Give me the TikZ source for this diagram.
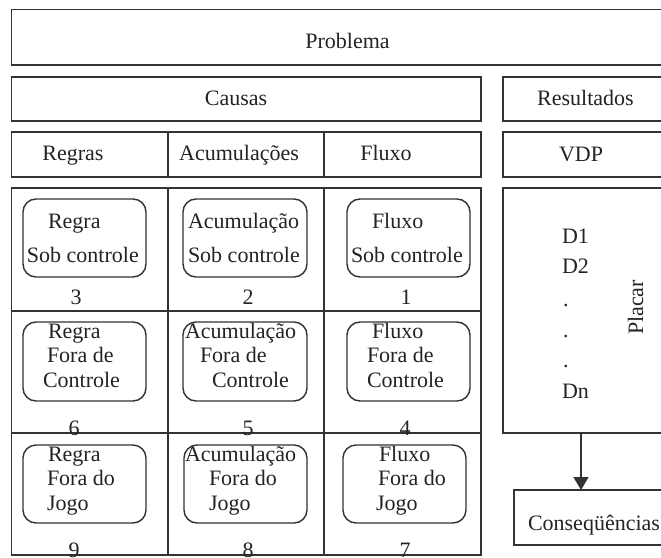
\documentclass[tikz,border=0pt]{standalone}
\usepackage{fontspec}
\setmainfont{Liberation Serif}
\usetikzlibrary{arrows.meta}
\definecolor{ink}{RGB}{50,50,50}
\definecolor{txtc}{RGB}{35,35,35}
% \mkbox{name}{x1}{y1}{x2}{y2}{style}: a box given by two corners
\newcommand\mkbox[6]{%
  \node[#6, minimum width={#4-#2}, minimum height={#5-#3}] (#1)
    at ({(#2+#4)/2},{(#3+#5)/2}) {};}
\begin{document}
\begin{tikzpicture}[x=1pt,y=-1pt,
  frame/.style={draw=ink, line width=1.4pt, inner sep=0pt, outer sep=0pt, rectangle},
  rframe/.style={frame, rounded corners=13pt},
  txt/.style={text=txtc, inner sep=0pt, outer sep=0pt,
    font=\fontsize{22pt}{26pt}\selectfont},
  lt/.style={txt, anchor=base west},
  ct/.style={txt, anchor=base},
  arr/.style={draw=ink, line width=1.4pt, -{Triangle[width=15pt,length=13pt]}}]
\useasboundingbox (0,0) rectangle (661,557);
\fill[white] (0,0) rectangle (661,557);

% header bands
\mkbox{prob}{11.5}{9.5}{670}{65}{frame}
\mkbox{caus}{11.5}{77}{481}{121}{frame}
\mkbox{res}{503}{77}{670}{121}{frame}
\mkbox{hreg}{11.5}{132}{168}{177}{frame}
\mkbox{hacu}{168}{132}{324}{177}{frame}
\mkbox{hflu}{324}{132}{481}{177}{frame}
\mkbox{vdp}{503}{132}{670}{177}{frame}

\node[ct] (tprob) at (347.5,48) {Problema};
\node[ct] (tcaus) at (236,105) {Causas};
\node[ct] (tres) at (585.5,105) {Resultados};
\node[ct] (treg) at (73,160) {Regras};
\node[ct] (tacu) at (239,160) {Acumulações};
\node[ct] (tflu) at (386,160) {Fluxo};
\node[ct] (tvdp) at (581,161) {VDP};

% 3x3 grid of causes
\mkbox{c11}{11.5}{188}{168}{311}{frame}
\mkbox{c12}{168}{188}{324}{311}{frame}
\mkbox{c13}{324}{188}{481}{311}{frame}
\mkbox{c21}{11.5}{311}{168}{433}{frame}
\mkbox{c22}{168}{311}{324}{433}{frame}
\mkbox{c23}{324}{311}{481}{433}{frame}
\mkbox{c31}{11.5}{433}{168}{555}{frame}
\mkbox{c32}{168}{433}{324}{555}{frame}
\mkbox{c33}{324}{433}{481}{555}{frame}

% rounded boxes
\mkbox{r11}{23}{199}{146}{277}{rframe}
\mkbox{r12}{183}{199}{307}{277}{rframe}
\mkbox{r13}{347}{199}{470}{277}{rframe}
\mkbox{r21}{23}{322}{146}{401}{rframe}
\mkbox{r22}{183}{322}{307}{401}{rframe}
\mkbox{r23}{347}{322}{470}{401}{rframe}
\mkbox{r31}{23}{445}{146}{523}{rframe}
\mkbox{r32}{184}{445}{307}{523}{rframe}
\mkbox{r33}{343}{445}{466}{523}{rframe}

% row 1
\node[lt] (a1) at (48,228) {Regra};
\node[lt] (a2) at (27,262) {Sob controle};
\node[lt] (b1) at (188,228) {Acumulação};
\node[lt] (b2) at (188,262) {Sob controle};
\node[lt] (d1) at (372,228) {Fluxo};
\node[lt] (d2) at (351,262) {Sob controle};
\node[ct] (n3) at (76,304) {3};
\node[ct] (n2) at (248,304) {2};
\node[ct] (n1) at (406,304) {1};

% row 2
\node[lt] (e1) at (48,338) {Regra};
\node[lt] (e2) at (47,362) {Fora de};
\node[lt] (e3) at (43,387) {Controle};
\node[lt] (f1) at (185,338) {Acumulação};
\node[lt] (f2) at (200,362) {Fora de};
\node[lt] (f3) at (212,387) {Controle};
\node[lt] (g1) at (372,338) {Fluxo};
\node[lt] (g2) at (367,362) {Fora de};
\node[lt] (g3) at (367,387) {Controle};
\node[ct] (n6) at (74,435) {6};
\node[ct] (n5) at (248,435) {5};
\node[ct] (n4) at (405,435) {4};

% row 3
\node[lt] (h1) at (48,461) {Regra};
\node[lt] (h2) at (47,485) {Fora do};
\node[lt] (h3) at (47,510) {Jogo};
\node[lt] (i1) at (185,461) {Acumulação};
\node[lt] (i2) at (209,485) {Fora do};
\node[lt] (i3) at (209,510) {Jogo};
\node[lt] (j1) at (379,461) {Fluxo};
\node[lt] (j2) at (378,485) {Fora do};
\node[lt] (j3) at (376,510) {Jogo};
\node[ct] (n9) at (74,557) {9};
\node[ct] (n8) at (248,557) {8};
\node[ct] (n7) at (405,557) {7};

% results panel
\mkbox{panel}{503}{188}{670}{433}{frame}
\node[lt] (dd1) at (562,243) {D1};
\node[lt] (dd2) at (562,273) {D2};
\node[lt] (dot1) at (563,306) {.};
\node[lt] (dot2) at (563,337) {.};
\node[lt] (dot3) at (563,367) {.};
\node[lt] (ddn) at (562,398) {Dn};
\node[txt, rotate=90, anchor=base] (placar) at (643,307.5) {Placar};

% consequences
\mkbox{conseq}{514}{490}{670}{545}{frame}
\node[lt] (tcons) at (528,530) {Conseqüências};
\coordinate (ax) at (581,0);
\draw[arr] (panel.south -| ax) -- (conseq.north -| ax);
\end{tikzpicture}
\end{document}
